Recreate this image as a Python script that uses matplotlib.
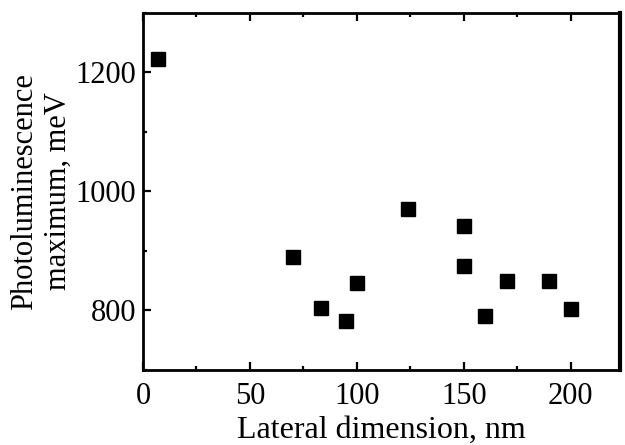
import matplotlib
matplotlib.use('Agg')
import matplotlib.pyplot as plt
from matplotlib.ticker import MultipleLocator

# Data
lateral_nm = [7, 70, 83, 95, 100, 124, 150, 150, 160, 170, 190, 200]
pl_max_mev = [1222, 890, 805, 782, 847, 970, 942, 875, 790, 850, 850, 802]

plt.rcParams['font.family'] = ['Liberation Serif', 'DejaVu Serif']
plt.rcParams['font.size'] = 22

fig = plt.figure(figsize=(6.25, 4.45), dpi=100)
ax = fig.add_axes([143 / 625, 1 - 370 / 445, (620 - 143) / 625, (370 - 13) / 445])

ax.plot(lateral_nm, pl_max_mev, 's', color='black', markersize=10.5, linestyle='none')

ax.set_xlim(0, 223)
ax.set_ylim(700, 1300)
ax.xaxis.set_major_locator(MultipleLocator(50))
ax.xaxis.set_minor_locator(MultipleLocator(25))
ax.yaxis.set_major_locator(MultipleLocator(200))
ax.yaxis.set_minor_locator(MultipleLocator(100))
ax.tick_params(which='both', direction='in', top=True, right=False, width=1.6)
ax.tick_params(which='major', length=6)
ax.tick_params(axis='x', which='major', pad=9)
ax.tick_params(axis='y', which='major', pad=5)
ax.tick_params(which='minor', length=3)
for sp in ax.spines.values():
    sp.set_linewidth(2.0)
ax.spines['right'].set_linewidth(3.0)

ax.set_xlabel('Lateral dimension, nm', fontsize=23, labelpad=3)
ax.set_ylabel('Photoluminescence\nmaximum, meV', labelpad=2, linespacing=1.2)

fig.savefig('out.png', dpi=100)
